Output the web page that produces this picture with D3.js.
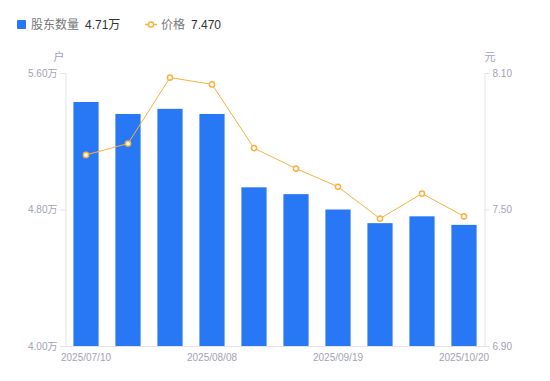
<!DOCTYPE html>
<html>
<head>
<meta charset="utf-8">
<script src="https://cdn.jsdelivr.net/npm/d3@7"></script>
<style>
  body { margin: 0; background: #fff; }
  text { font-family: "Liberation Sans", "Noto Sans CJK SC", sans-serif; }
</style>
</head>
<body>
<div id="chart"></div>
<script>
const dates = ["2025/07/10", "2025/07/20", "2025/07/31", "2025/08/08", "2025/08/20",
    "2025/08/31", "2025/09/19", "2025/09/30", "2025/10/10", "2025/10/20"]
const holders = [5.43, 5.36, 5.39, 5.36, 4.93, 4.89, 4.80, 4.72, 4.76, 4.71]
const prices = [7.74, 7.79, 8.08, 8.05, 7.77, 7.68, 7.60, 7.46, 7.57, 7.47]
const holderTicks = [4.0, 4.8, 5.6]
const priceTicks = [6.9, 7.5, 8.1]
const shownDates = ["2025/07/10", "2025/08/08", "2025/09/19", "2025/10/20"]

const width = 550, height = 381
const margin = { top: 73, right: 65, bottom: 35, left: 65 }
const axisColor = "#e3e3e8", labelColor = "#a3a3b5"
const barColor = "#2878f5", lineColor = "#fbb13c"

const svg = d3.select("#chart").append("svg")
    .attr("width", width)
    .attr("height", height)

const x = d3.scaleBand()
    .domain(dates)
    .range([margin.left, width - margin.right])
    .paddingInner(0.4)
    .paddingOuter(0.2)

const yL = d3.scaleLinear().domain([4.0, 5.6]).range([height - margin.bottom, margin.top])
const yR = d3.scaleLinear().domain([6.9, 8.1]).range([height - margin.bottom, margin.top])

// bars
svg.append("g")
    .selectAll("rect")
    .data(holders)
    .join("rect")
    .attr("x", (d, i) => x(dates[i]))
    .attr("y", d => yL(d))
    .attr("width", x.bandwidth())
    .attr("height", d => yL(4.0) - yL(d))
    .attr("fill", barColor)

// axes
const left = svg.append("g")
    .attr("transform", `translate(${margin.left + 0.5},0)`)
    .call(d3.axisLeft(yL).tickValues(holderTicks).tickSize(5).tickPadding(3)
        .tickFormat(d => d3.format(".2f")(d) + "万"))
const right = svg.append("g")
    .attr("transform", `translate(${width - margin.right - 0.5},0)`)
    .call(d3.axisRight(yR).tickValues(priceTicks).tickSize(5).tickPadding(3)
        .tickFormat(d3.format(".2f")))
const bottom = svg.append("g")
    .attr("transform", `translate(0,${height - margin.bottom + 0.5})`)
    .call(d3.axisBottom(x).tickValues(shownDates).tickSize(0).tickPadding(7))

for (const g of [left, right, bottom]) {
    g.select(".domain").attr("stroke", axisColor)
    g.selectAll(".tick line").attr("stroke", axisColor)
    g.selectAll(".tick text").attr("fill", labelColor).attr("font-size", 10)
        .attr("font-family", "Liberation Sans, Noto Sans CJK SC, sans-serif")
}
bottom.select(".domain").attr("d", `M${margin.left},0H${width - margin.right}`)

svg.append("text").attr("x", 59).attr("y", 61).attr("text-anchor", "middle")
    .attr("fill", labelColor).attr("font-size", 11).text("户")
svg.append("text").attr("x", 490).attr("y", 61).attr("text-anchor", "middle")
    .attr("fill", labelColor).attr("font-size", 11).text("元")

// price line
const line = d3.line()
    .x((d, i) => x(dates[i]) + x.bandwidth() / 2)
    .y(d => yR(d))
svg.append("path")
    .datum(prices)
    .attr("fill", "none")
    .attr("stroke", lineColor)
    .attr("stroke-width", 1)
    .attr("d", line)
svg.append("g")
    .selectAll("circle")
    .data(prices)
    .join("circle")
    .attr("cx", (d, i) => x(dates[i]) + x.bandwidth() / 2)
    .attr("cy", d => yR(d))
    .attr("r", 2.6)
    .attr("fill", "#fff")
    .attr("stroke", lineColor)
    .attr("stroke-width", 1.5)

// legend
const legend = svg.append("g").attr("font-size", 12)
legend.append("rect").attr("x", 17).attr("y", 20).attr("width", 9).attr("height", 9)
    .attr("rx", 1).attr("fill", barColor)
legend.append("text").attr("x", 31).attr("y", 29).attr("fill", "#777").text("股东数量")
legend.append("text").attr("x", 85).attr("y", 29).attr("fill", "#333")
    .text(d3.format(".2f")(holders[holders.length - 1]) + "万")
legend.append("line").attr("x1", 145).attr("x2", 157).attr("y1", 24.5).attr("y2", 24.5)
    .attr("stroke", lineColor).attr("stroke-width", 1.5)
legend.append("circle").attr("cx", 151).attr("cy", 24.5).attr("r", 2.6)
    .attr("fill", "#fff").attr("stroke", lineColor).attr("stroke-width", 1.5)
legend.append("text").attr("x", 161).attr("y", 29).attr("fill", "#777").text("价格")
legend.append("text").attr("x", 191).attr("y", 29).attr("fill", "#333")
    .text(d3.format(".3f")(prices[prices.length - 1]))
</script>
</body>
</html>
